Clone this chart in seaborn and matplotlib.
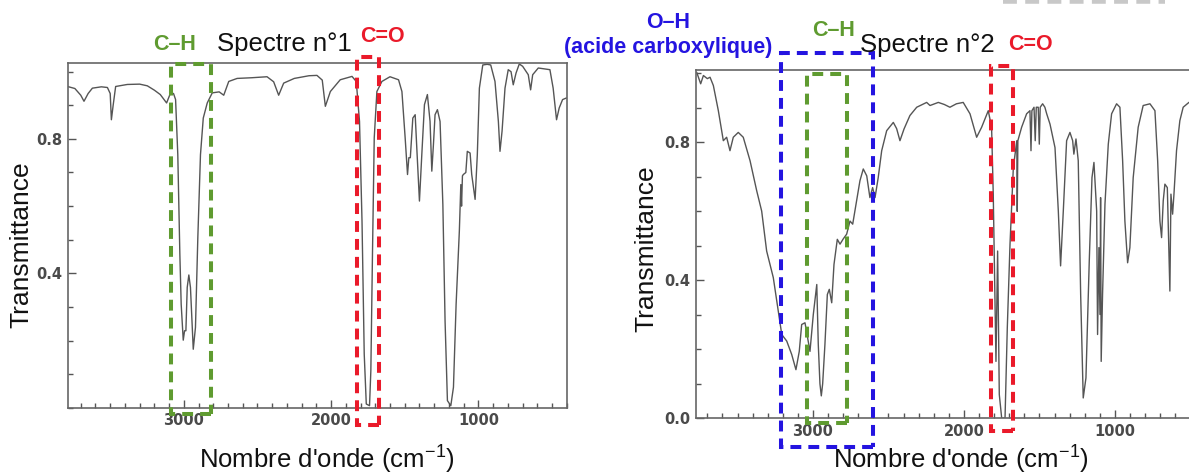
import matplotlib
matplotlib.use("Agg")
import matplotlib.pyplot as plt
import matplotlib.patches as mpatches
from matplotlib.lines import Line2D
from matplotlib.ticker import MultipleLocator
import seaborn as sns
import pandas as pd

# =============================
# Spectrum 1 (wavenumber cm-1, transmittance)
# =============================
wn1 = [3790, 3740, 3700, 3678, 3650, 3621, 3560, 3519, 3500, 3492, 3480, 3463,
       3384, 3300, 3248, 3200, 3160, 3117, 3090, 3070, 3056, 3041, 3027, 3018,
       3004, 2995, 2986, 2977, 2966, 2955, 2936, 2921, 2905, 2887, 2868, 2841,
       2807, 2760, 2729, 2695, 2638, 2540, 2435, 2390, 2356, 2322, 2250, 2150,
       2096, 2060, 2039, 2005, 1938, 1858, 1829, 1807, 1790, 1775, 1761, 1739,
       1730, 1719, 1707, 1689, 1655, 1600, 1542, 1519, 1497, 1481, 1472, 1462,
       1445, 1429, 1418, 1400, 1384, 1366, 1346, 1328, 1316, 1305, 1294, 1278,
       1260, 1241, 1226, 1210, 1187, 1169, 1151, 1129, 1119, 1114, 1108, 1102,
       1085, 1075, 1056, 1045, 1022, 1007, 993, 970, 940, 916, 887, 864, 853,
       839, 819, 797, 778, 763, 744, 722, 699, 661, 645, 631, 593, 514, 492,
       469, 451, 428, 401]
t1 = [0.956, 0.950, 0.930, 0.912, 0.935, 0.951, 0.955, 0.953, 0.935, 0.857, 0.900, 0.956,
      0.962, 0.963, 0.958, 0.945, 0.932, 0.907, 0.937, 0.935, 0.917, 0.753, 0.456, 0.308,
      0.201, 0.229, 0.229, 0.358, 0.395, 0.358, 0.174, 0.239, 0.506, 0.753, 0.862, 0.907,
      0.937, 0.940, 0.930, 0.971, 0.980, 0.982, 0.985, 0.970, 0.930, 0.966, 0.980, 0.988,
      0.989, 0.975, 0.897, 0.941, 0.976, 0.986, 0.971, 0.852, 0.555, 0.160, 0.011, 0.006,
      0.110, 0.456, 0.803, 0.941, 0.971, 0.985, 0.976, 0.941, 0.803, 0.694, 0.744, 0.744,
      0.862, 0.872, 0.773, 0.615, 0.753, 0.902, 0.932, 0.852, 0.704, 0.783, 0.872, 0.887,
      0.852, 0.605, 0.258, 0.021, 0.006, 0.061, 0.308, 0.526, 0.664, 0.600, 0.690, 0.694,
      0.700, 0.763, 0.758, 0.694, 0.620, 0.753, 0.951, 1.020, 1.022, 1.020, 0.971, 0.852, 0.763,
      0.823, 0.951, 1.006, 1.000, 0.961, 0.996, 1.023, 1.016, 0.991, 0.946, 0.991, 1.011, 1.006, 0.951,
      0.857, 0.892, 0.917, 0.922]

# =============================
# Spectrum 2
# =============================
wn2 = [3770, 3744, 3726, 3700, 3682, 3660, 3627, 3594, 3572, 3550, 3528, 3495,
       3462, 3417, 3373, 3340, 3307, 3263, 3230, 3207, 3174, 3141, 3113, 3091,
       3075, 3053, 3020, 2998, 2975, 2965, 2954, 2945, 2936, 2921, 2905, 2892, 2876,
       2861, 2839, 2821, 2800, 2777, 2755, 2737, 2711, 2689, 2667, 2644, 2623,
       2605, 2589, 2568, 2545, 2512, 2468, 2446, 2424, 2397, 2358, 2313, 2247,
       2225, 2170, 2130, 2093, 2050, 2005, 1960, 1916, 1883, 1839, 1817, 1806,
       1795, 1788, 1777, 1770, 1766, 1750, 1728, 1713, 1695, 1673, 1650, 1647,
       1643, 1618, 1585, 1563, 1556, 1550, 1536, 1528, 1521, 1508, 1501, 1495,
       1479, 1464, 1452, 1430, 1397, 1375, 1360, 1342, 1320, 1298, 1280, 1272,
       1258, 1243, 1227, 1210, 1192, 1170, 1152, 1139, 1121, 1115, 1106, 1099,
       1095, 1091, 1082, 1066, 1044, 1022, 989, 967, 949, 934, 916, 901, 879,
       846, 813, 768, 735, 717, 702, 691, 680, 669, 653, 636, 629, 618, 609,
       592, 570, 548, 510, 480]
t2 = [1.003, 0.970, 0.994, 0.985, 0.989, 0.965, 0.892, 0.805, 0.815, 0.776, 0.815, 0.829,
      0.815, 0.747, 0.660, 0.601, 0.485, 0.408, 0.311, 0.243, 0.224, 0.185, 0.141, 0.194,
      0.272, 0.277, 0.194, 0.301, 0.388, 0.214, 0.100, 0.065, 0.100, 0.214, 0.359, 0.374, 0.335,
      0.446, 0.519, 0.505, 0.520, 0.534, 0.572, 0.563, 0.631, 0.689, 0.723, 0.703, 0.640,
      0.669, 0.640, 0.698, 0.776, 0.834, 0.858, 0.840, 0.805, 0.839, 0.878, 0.902, 0.916,
      0.907, 0.916, 0.910, 0.902, 0.912, 0.916, 0.883, 0.815, 0.844, 0.892, 0.844, 0.650,
      0.359, 0.165, 0.485, 0.214, 0.069, 0.000, 0.000, 0.262, 0.505, 0.727, 0.805, 0.600,
      0.805, 0.844, 0.883, 0.892, 0.776, 0.892, 0.902, 0.805, 0.902, 0.902, 0.795, 0.902,
      0.912, 0.902, 0.883, 0.853, 0.785, 0.601, 0.442, 0.601, 0.805, 0.829, 0.805, 0.766,
      0.810, 0.747, 0.359, 0.059, 0.117, 0.456, 0.698, 0.742, 0.601, 0.243, 0.495, 0.301,
      0.640, 0.165, 0.359, 0.621, 0.795, 0.883, 0.912, 0.902, 0.747, 0.572, 0.451, 0.495, 0.698,
      0.844, 0.907, 0.912, 0.892, 0.747, 0.572, 0.524, 0.631, 0.679, 0.669, 0.369, 0.650, 0.592, 0.650,
      0.776, 0.863, 0.902, 0.916, 0.920]

# =============================
# Highlighted bands: (wn high, wn low, T bottom, T top)
# =============================
ch_box1 = (3090, 2814, -0.02, 1.022)
co_box1 = (1822, 1673, -0.05, 1.045)
oh_box2 = (3214, 2605, -0.082, 1.058)
ch_box2 = (3042, 2777, -0.014, 0.999)
co_box2 = (1821, 1677, -0.038, 1.023)

GREEN = "#5f9b30"
RED = "#ea1a2a"
BLUE = "#2414e0"
LINE = "#555555"

sns.set_theme(style="white")
plt.rcParams["font.family"] = ["Liberation Sans", "DejaVu Sans"]
plt.rcParams["mathtext.fontset"] = "custom"
plt.rcParams["mathtext.rm"] = "Liberation Sans"
plt.rcParams["mathtext.it"] = "Liberation Sans:italic"
plt.rcParams["mathtext.bf"] = "Liberation Sans:bold"

W, H = 1189, 476
fig = plt.figure(figsize=(W / 100, H / 100), dpi=100)


def px_box(l, t, r, b):
    return [l / W, 1 - b / H, (r - l) / W, (b - t) / H]


ax1 = fig.add_axes(px_box(67.5, 63.3, 566.7, 407.7))
ax2 = fig.add_axes(px_box(696, 70, 1204, 418.3))

df1 = pd.DataFrame({"wn": wn1, "T": t1})
df2 = pd.DataFrame({"wn": wn2, "T": t2})
sns.lineplot(data=df1, x="wn", y="T", ax=ax1, sort=False, estimator=None, color=LINE, lw=1.0)
sns.lineplot(data=df2, x="wn", y="T", ax=ax2, sort=False, estimator=None, color=LINE, lw=1.0)


def style(ax, xlim, ylim, yticks):
    ax.set_xlim(*xlim)
    ax.set_ylim(*ylim)
    ax.xaxis.set_major_locator(MultipleLocator(1000))
    ax.xaxis.set_minor_locator(MultipleLocator(100))
    ax.set_yticks(yticks)
    ax.yaxis.set_minor_locator(MultipleLocator(0.1))
    ax.tick_params(which="both", direction="in", top=False, right=False,
                   left=True, bottom=True, color="#555555", labelcolor="#4a4a4a",
                   labelsize=10.5, pad=4)
    ax.tick_params(which="major", length=6, width=1)
    ax.tick_params(which="minor", length=3.5, width=1)
    for s in ax.spines.values():
        s.set_color("#666666")
        s.set_linewidth(1.2)
    plt.setp(ax.get_xticklabels() + ax.get_yticklabels(),
             fontfamily="DejaVu Sans", fontweight="bold")


style(ax1, (3790, 400), (0, 1.025), [0.4, 0.8])
style(ax2, (3775, 410), (0, 1.01), [0.0, 0.4, 0.8])

xlab = "Nombre d'onde (cm$^{-1}$)"
ax1.set_xlabel(xlab, fontsize=18.5, va="center", color="#111111")
ax1.xaxis.set_label_coords(0.52, -0.152)
ax1.set_ylabel("Transmittance", fontsize=19, va="center", color="#111111")
ax1.yaxis.set_label_coords(-0.093, 0.474)
ax2.set_xlabel(xlab, fontsize=18.5, va="center", color="#111111")
ax2.xaxis.set_label_coords(0.522, -0.12)
ax2.set_ylabel("Transmittance", fontsize=19, va="center", color="#111111")
ax2.yaxis.set_label_coords(-0.098, 0.4875)


def band(ax, box, color):
    hi, lo, bot, top = box
    rect = mpatches.Rectangle((lo, bot), hi - lo, top - bot, fill=False,
                              edgecolor=color, lw=2.9, linestyle=(0, (2.7, 1.75)),
                              clip_on=False, zorder=5)
    ax.add_patch(rect)


band(ax1, ch_box1, GREEN)
band(ax1, co_box1, RED)
band(ax2, oh_box2, BLUE)
band(ax2, ch_box2, GREEN)
band(ax2, co_box2, RED)


def ftext(x, y, s, **kw):
    fig.text(x / W, 1 - y / H, s, ha="center", va="center", **kw)


ftext(175, 44, "C\u2013H", color=GREEN, fontsize=15.5, fontweight="bold")
ftext(284, 44, "Spectre n\u00b01", color="#111111", fontsize=18.5)
ftext(382, 36, "C=O", color=RED, fontsize=15.5, fontweight="bold")

ftext(668, 22, "O\u2013H", color=BLUE, fontsize=15.5, fontweight="bold")
ftext(668, 48, "(acide carboxylique)", color=BLUE, fontsize=15.5, fontweight="bold")
ftext(834, 31, "C\u2013H", color=GREEN, fontsize=15.5, fontweight="bold")
ftext(927, 45, "Spectre n\u00b02", color="#111111", fontsize=18.5)
ftext(1030, 45, "C=O", color=RED, fontsize=15.5, fontweight="bold")

# cut-off dashed frame at the top right
fig.add_artist(Line2D([1003 / W, 1165 / W], [1 - 1 / H, 1 - 1 / H], color="#c8c8c8",
                      lw=4, linestyle=(0, (2.5, 1.5))))

fig.savefig("out.png", dpi=100)
